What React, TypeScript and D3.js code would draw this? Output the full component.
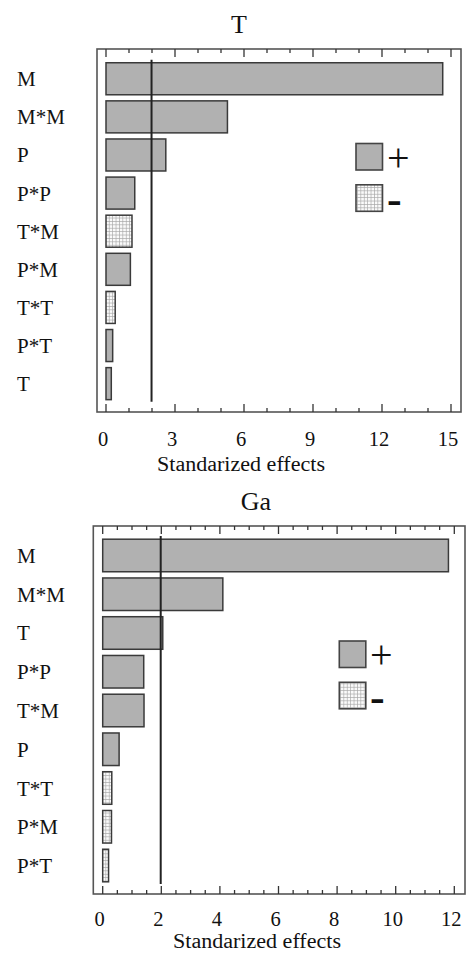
import React from "react";
import * as d3 from "d3";

const tTerms = ["M", "M*M", "P", "P*P", "T*M", "P*M", "T*T", "P*T", "T"];
const tEffects = [14.64, 5.28, 2.6, 1.25, 1.13, 1.06, 0.4, 0.29, 0.23];
const tSigns = ["+", "+", "+", "+", "-", "+", "-", "+", "+"];
const tTicks = [0, 3, 6, 9, 12, 15];
const tCritical = 1.98;

const gaTerms = ["M", "M*M", "T", "P*P", "T*M", "P", "T*T", "P*M", "P*T"];
const gaEffects = [11.8, 4.1, 2.05, 1.4, 1.41, 0.56, 0.31, 0.3, 0.2];
const gaSigns = ["+", "+", "+", "+", "+", "+", "-", "-", "-"];
const gaTicks = [0, 2, 4, 6, 8, 10, 12];
const gaCritical = 1.98;

const legendLabels = ["+", "-"];

const FONT = '"Liberation Serif", "Times New Roman", serif';
const BAR_FILL = "#b1b1b1";
const BAR_STROKE = "#3a3a3a";

type Layout = {
  frame: [number, number, number, number];
  xDomain: [number, number];
  xRange: [number, number];
  minorStep: number;
  yRange: [number, number];
  title: [number, number];
  tickBaseline: number;
  axisTitle: [number, number];
  legend: [number, number, number];
  legendText: [number, number];
};

const txt = (size: number, extra: React.CSSProperties = {}): React.CSSProperties => ({
  fontFamily: FONT,
  fontSize: size,
  ...extra,
});

function Panel(props: {
  id: string;
  title: string;
  terms: string[];
  effects: number[];
  signs: string[];
  ticks: number[];
  critical: number;
  L: Layout;
}) {
  const { id, title, terms, effects, signs, ticks, critical, L } = props;
  const x = d3.scaleLinear().domain(L.xDomain).range(L.xRange);
  const y = d3
    .scaleBand<string>()
    .domain(terms)
    .range(L.yRange)
    .paddingInner(0.16)
    .paddingOuter(0.08);
  const [fx0, fy0, fx1, fy1] = L.frame;
  const minor = d3.range(L.xDomain[0], L.xDomain[1] + 1e-9, L.minorStep);
  const isMajor = (v: number) => ticks.some((t) => Math.abs(t - v) < 1e-6);
  const pat = `hatch-${id}`;
  const [lx, ly, ls] = L.legend;
  const legendGap = 41.3;
  return (
    <g>
      <defs>
        <pattern id={pat} width={3.4} height={3.4} patternUnits="userSpaceOnUse">
          <rect width={3.4} height={3.4} fill="#fafafa" />
          <path d="M0,0.3H3.4M0.3,0V3.4" stroke="#a8a8a8" strokeWidth={0.8} />
        </pattern>
      </defs>
      <text x={L.title[0]} y={L.title[1]} textAnchor="middle" style={txt(26)} fill="#111">
        {title}
      </text>
      <rect x={fx0} y={fy0} width={fx1 - fx0} height={fy1 - fy0} fill="none" stroke="#555" strokeWidth={1.6} />
      {minor.map((v, i) => {
        const big = isMajor(v);
        const len = big ? 8 : 4;
        return (
          <g key={i} stroke="#333" strokeWidth={1.3}>
            <line x1={x(v)} x2={x(v)} y1={fy0} y2={fy0 + len} />
            <line x1={x(v)} x2={x(v)} y1={fy1} y2={fy1 - len} />
          </g>
        );
      })}
      {ticks.map((t) => (
        <text key={t} x={x(t) - 3} y={L.tickBaseline} textAnchor="middle" style={txt(20.5)} fill="#111">
          {t}
        </text>
      ))}
      <text
        x={L.axisTitle[0]}
        y={L.axisTitle[1]}
        textAnchor="middle"
        style={txt(20)}
        textLength={168}
        lengthAdjust="spacingAndGlyphs"
        fill="#111"
      >
        Standarized effects
      </text>
      {terms.map((term, i) => (
        <g key={term}>
          <rect
            x={x(0)}
            y={y(term)!}
            width={x(effects[i]) - x(0)}
            height={y.bandwidth()}
            fill={signs[i] === "+" ? BAR_FILL : `url(#${pat})`}
            stroke={BAR_STROKE}
            strokeWidth={1.5}
          />
          <text x={17} y={y(term)! + y.bandwidth() / 2 + 7.5} style={txt(21)} fill="#111">
            {term}
          </text>
        </g>
      ))}
      <line
        x1={x(critical)}
        x2={x(critical)}
        y1={L.yRange[0]}
        y2={L.yRange[1] - 1}
        stroke="#222"
        strokeWidth={2}
      />
      {legendLabels.map((lab, i) => (
        <g key={lab}>
          <rect
            x={lx}
            y={ly + i * legendGap}
            width={ls}
            height={ls}
            fill={lab === "+" ? BAR_FILL : `url(#${pat})`}
            stroke="#444"
            strokeWidth={1.6}
          />
          <text
            x={L.legendText[0]}
            y={ly + i * legendGap + ls / 2 + (lab === "+" ? 14 : 16)}
            style={txt(lab === "+" ? 40 : 44, { fontWeight: lab === "-" ? "bold" : "normal" })}
            fill="#111"
          >
            {lab}
          </text>
        </g>
      ))}
    </g>
  );
}

const topLayout: Layout = {
  frame: [97, 49, 461, 412],
  xDomain: [0, 15],
  xRange: [106, 451],
  minorStep: 1,
  yRange: [59.7, 402.7],
  title: [239, 33],
  tickBaseline: 446,
  axisTitle: [241, 471],
  legend: [356, 143.5, 26.5],
  legendText: [387, 0],
};

const bottomLayout: Layout = {
  frame: [93.3, 526, 465, 894],
  xDomain: [0, 12],
  xRange: [102.7, 454.3],
  minorStep: 0.5,
  yRange: [536.1, 884.9],
  title: [256, 510],
  tickBaseline: 925.5,
  axisTitle: [257, 948.3],
  legend: [339.3, 641, 26.5],
  legendText: [370, 0],
};

export default function App() {
  return (
    <svg
      width={466}
      height={953}
      style={{ position: "absolute", left: 0, top: 0, background: "#fff" }}
    >
      <rect width={466} height={953} fill="#fff" />
      <Panel id="t" title="T" terms={tTerms} effects={tEffects} signs={tSigns} ticks={tTicks} critical={tCritical} L={topLayout} />
      <Panel id="ga" title="Ga" terms={gaTerms} effects={gaEffects} signs={gaSigns} ticks={gaTicks} critical={gaCritical} L={bottomLayout} />
    </svg>
  );
}
